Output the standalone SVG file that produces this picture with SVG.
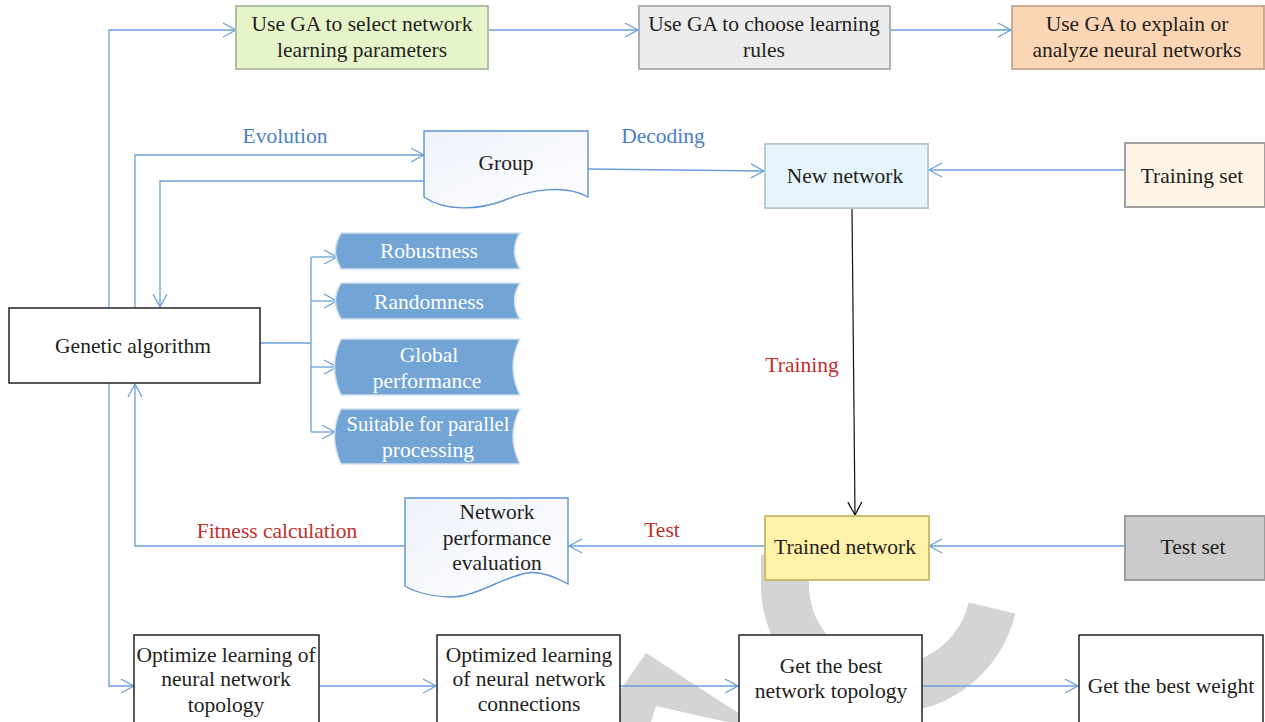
<svg xmlns="http://www.w3.org/2000/svg" width="1265" height="722" viewBox="0 0 1265 722">
<defs>
  <marker id="ab" markerUnits="userSpaceOnUse" markerWidth="16" markerHeight="16" refX="14" refY="8" orient="auto">
    <path d="M1,1 L14,8 L1,15" fill="none" stroke="#6a9fd8" stroke-width="1.3"/>
  </marker>
  <marker id="ak" markerUnits="userSpaceOnUse" markerWidth="16" markerHeight="16" refX="14" refY="8" orient="auto">
    <path d="M1,1 L14,8 L1,15" fill="none" stroke="#111" stroke-width="1.3"/>
  </marker>
  <linearGradient id="doc" x1="0" y1="0" x2="1" y2="1">
    <stop offset="0" stop-color="#eef2fb"/>
    <stop offset="1" stop-color="#ffffff"/>
  </linearGradient>
  <style>
    text{font-family:"Liberation Serif","DejaVu Serif",serif;font-size:21.5px;fill:#231f20;text-anchor:middle}
    .w{fill:#ffffff}
    .lb{fill:#4a80c4}
    .lr{fill:#c0302a}
    .c{fill:none;stroke:#6a9fd8;stroke-width:1.3}
    .k{fill:none;stroke:#111;stroke-width:1.2}
    .plain{fill:#ffffff;stroke:#222;stroke-width:1.5}
    .blue{fill:#72a4d6;stroke:#d3e0ef;stroke-width:1.5}
    .docs{fill:url(#doc);stroke:#5f93d2;stroke-width:1.4}
    .wm{fill:none;stroke:#d4d4d4}
  </style>
</defs>
<rect width="1265" height="722" fill="#ffffff"/>

<!-- watermark -->
<g id="watermark">
  <path class="wm" d="M785,555 L785,590 A105,105 0 0 0 992,608" stroke-width="48"/>
  <path d="M598,722 L646,653 L752,722 Z M651,722 L656,706 L727,722 Z" fill="#d4d4d4" fill-rule="evenodd"/>
</g>

<g id="connectors">
  <polyline class="c" points="109,308 109,30 236,30" marker-end="url(#ab)"/>
  <line class="c" x1="488" y1="30" x2="638" y2="30" marker-end="url(#ab)"/>
  <line class="c" x1="890" y1="30" x2="1011" y2="30" marker-end="url(#ab)"/>
  <polyline class="c" points="135,308 135,155 424,155" marker-end="url(#ab)"/>
  <polyline class="c" points="424,181 160,181 160,307" marker-end="url(#ab)"/>
  <line class="c" x1="588" y1="169" x2="764" y2="171" marker-end="url(#ab)"/>
  <line class="c" x1="1125" y1="170" x2="929" y2="170" marker-end="url(#ab)"/>
  <line class="k" x1="852" y1="208" x2="855" y2="515" marker-end="url(#ak)"/>
  <line class="c" x1="1125" y1="546" x2="929" y2="546" marker-end="url(#ab)"/>
  <line class="c" x1="765" y1="546" x2="569" y2="546" marker-end="url(#ab)"/>
  <polyline class="c" points="405,546 135,546 135,384" marker-end="url(#ab)"/>
  <polyline class="c" points="109,383 109,686 134,686" marker-end="url(#ab)"/>
  <line class="c" x1="319" y1="686" x2="436" y2="686" marker-end="url(#ab)"/>
  <line class="c" x1="620" y1="686" x2="738" y2="686" marker-end="url(#ab)"/>
  <line class="c" x1="922" y1="686" x2="1078" y2="686" marker-end="url(#ab)"/>
  <polyline class="c" points="260,343 311,343"/>
  <line class="c" x1="311" y1="257" x2="311" y2="432"/>
  <line class="c" x1="311" y1="257" x2="337" y2="257" marker-end="url(#ab)"/>
  <line class="c" x1="311" y1="301" x2="337" y2="301" marker-end="url(#ab)"/>
  <line class="c" x1="311" y1="367" x2="337" y2="367" marker-end="url(#ab)"/>
  <line class="c" x1="311" y1="432" x2="335" y2="432" marker-end="url(#ab)"/>
  <text class="lb" x="285" y="143">Evolution</text>
  <text class="lb" x="663" y="143">Decoding</text>
  <text class="lr" x="802" y="372">Training</text>
  <text class="lr" x="277" y="538">Fitness calculation</text>
  <text class="lr" x="662" y="537">Test</text>
</g>

<g id="n-select">
  <rect x="236" y="6" width="252" height="63" fill="#e6f5c9" stroke="#b3bda6" stroke-width="2"/>
  <text x="362" y="31">Use GA to select network</text>
  <text x="362" y="57">learning parameters</text>
</g>
<g id="n-rules">
  <rect x="639" y="6" width="251" height="63" fill="#ececec" stroke="#b0b0b0" stroke-width="2"/>
  <text x="764" y="31">Use GA to choose learning</text>
  <text x="764" y="57">rules</text>
</g>
<g id="n-explain">
  <rect x="1012" y="6" width="252" height="63" fill="#fbd5b4" stroke="#c9ad95" stroke-width="2"/>
  <text x="1137" y="31">Use GA to explain or</text>
  <text x="1137" y="57">analyze neural networks</text>
</g>

<g id="n-group">
  <path class="docs" d="M424,131 H588 V197 C565,184 530,190 505,200 C480,210 445,212 424,197 Z"/>
  <text x="506" y="170">Group</text>
</g>
<g id="n-new">
  <rect x="765" y="144" width="163" height="64" fill="#e5f4fb" stroke="#bccbcf" stroke-width="2"/>
  <text x="845" y="183">New network</text>
</g>
<g id="n-trainset">
  <rect x="1125" y="143" width="140" height="64" fill="#fdf4e6" stroke="#a0a0a0" stroke-width="2"/>
  <text x="1192" y="183">Training set</text>
</g>

<g id="n-ga">
  <rect class="plain" x="9" y="308" width="251" height="75"/>
  <text x="133" y="353">Genetic algorithm</text>
</g>

<g id="n-robust">
  <path class="blue" d="M341,233 H520 Q509,251 520,269 H341 Q330,251 341,233 Z"/>
  <text class="w" x="429" y="258">Robustness</text>
</g>
<g id="n-random">
  <path class="blue" d="M341,283 H520 Q509,301 520,319 H341 Q330,301 341,283 Z"/>
  <text class="w" x="429" y="309">Randomness</text>
</g>
<g id="n-global">
  <path class="blue" d="M341,339 H520 Q506,367 520,395 H341 Q328,367 341,339 Z"/>
  <text class="w" x="429" y="362">Global</text>
  <text class="w" x="427" y="388">performance</text>
</g>
<g id="n-parallel">
  <path class="blue" d="M341,409 H520 Q506,436 520,464 H341 Q328,436 341,409 Z"/>
  <text class="w" x="428" y="431" style="font-size:20.5px">Suitable for parallel</text>
  <text class="w" x="428" y="457">processing</text>
</g>

<g id="n-npe">
  <path class="docs" d="M405,498 H568 V584 C550,574 538,571 527,573 C500,578 475,598 449,597 C430,596 415,592 405,586 Z"/>
  <text x="497" y="519">Network</text>
  <text x="497" y="545">performance</text>
  <text x="497" y="570">evaluation</text>
</g>
<g id="n-trained">
  <rect x="765" y="516" width="164" height="64" fill="#fef2a8" stroke="#cdbb72" stroke-width="2"/>
  <text x="845" y="554">Trained network</text>
</g>
<g id="n-testset">
  <rect x="1125" y="516" width="140" height="64" fill="#cbcbcb" stroke="#9c9c9c" stroke-width="2"/>
  <text x="1193" y="554">Test set</text>
</g>

<g id="n-opt-topo">
  <rect class="plain" x="134" y="635" width="185" height="92"/>
  <text x="226" y="662">Optimize learning of</text>
  <text x="226" y="686">neural network</text>
  <text x="226" y="712">topology</text>
</g>
<g id="n-opt-conn">
  <rect class="plain" x="437" y="635" width="183" height="92"/>
  <text x="529" y="662">Optimized learning</text>
  <text x="529" y="686">of neural network</text>
  <text x="529" y="711">connections</text>
</g>
<g id="n-best-topo">
  <rect class="plain" x="739" y="635" width="183" height="92"/>
  <text x="831" y="673">Get the best</text>
  <text x="831" y="698">network topology</text>
</g>
<g id="n-best-weight">
  <rect class="plain" x="1079" y="635" width="184" height="92"/>
  <text x="1171" y="693">Get the best weight</text>
</g>
</svg>
